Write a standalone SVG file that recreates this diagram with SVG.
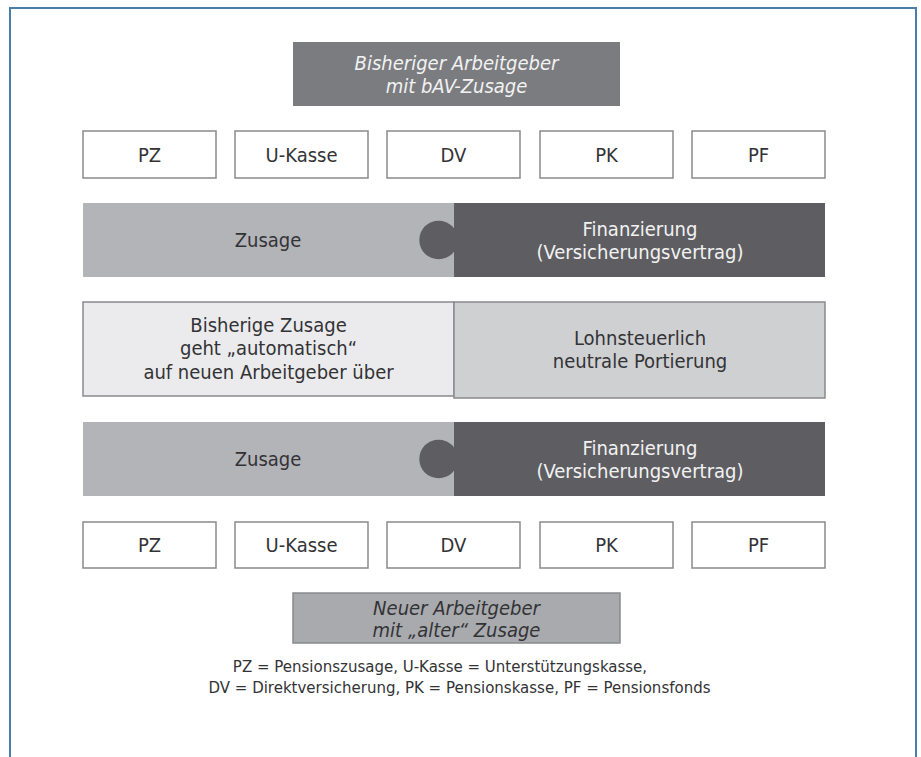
<svg xmlns="http://www.w3.org/2000/svg" width="921" height="757" viewBox="0 0 921 757">
<style>
text{font-family:"DejaVu Sans","Verdana",sans-serif;text-anchor:middle}
.t,.w{font-size:20px;font-stretch:condensed}
.t{fill:#333336}
.w{fill:#f2f2f2}
.box{fill:#ffffff;stroke:#8a8a8e;stroke-width:1.5}
.it{font-style:italic}
.leg{font-size:15px;fill:#333336}
</style>
<rect x="10" y="8" width="906" height="760" fill="#ffffff" stroke="#4a7ea8" stroke-width="2"/>
<g id="alter-ag">
<rect x="293" y="42" width="327" height="64" fill="#7b7c80"/>
<text class="w it" x="456.5" y="70">Bisheriger Arbeitgeber</text>
<text class="w it" x="456.5" y="93">mit bAV-Zusage</text>
</g>
<g id="row1">
<g id="pz1"><rect class="box" x="83" y="131" width="133" height="47"/><text class="t" x="149.5" y="162">PZ</text></g>
<g id="uk1"><rect class="box" x="235" y="131" width="133" height="47"/><text class="t" x="301.5" y="162">U-Kasse</text></g>
<g id="dv1"><rect class="box" x="387" y="131" width="133" height="47"/><text class="t" x="453.5" y="162">DV</text></g>
<g id="pk1"><rect class="box" x="540" y="131" width="133" height="47"/><text class="t" x="606.5" y="162">PK</text></g>
<g id="pf1"><rect class="box" x="692" y="131" width="133" height="47"/><text class="t" x="758.5" y="162">PF</text></g>
</g>
<g id="bar1">
<rect x="83" y="203" width="371" height="74" fill="#b3b4b8"/>
<rect x="454" y="203" width="371" height="74" fill="#5e5e62"/>
<circle cx="438.6" cy="240" r="19.3" fill="#5e5e62"/>
<text class="t" x="268" y="247">Zusage</text>
<text class="w" x="640" y="236">Finanzierung</text>
<text class="w" x="640" y="259">(Versicherungsvertrag)</text>
</g>
<g id="mitte">
<rect x="83" y="302" width="371" height="94" fill="#ebebed" stroke="#8a8a8e" stroke-width="1.5"/>
<rect x="454" y="302" width="371" height="96" fill="#cfd0d2" stroke="#8a8a8e" stroke-width="1.5"/>
<text class="t" x="268.5" y="332">Bisherige Zusage</text>
<text class="t" x="268.5" y="355">geht „automatisch“</text>
<text class="t" x="268.5" y="379">auf neuen Arbeitgeber über</text>
<text class="t" x="640" y="345">Lohnsteuerlich</text>
<text class="t" x="640" y="368">neutrale Portierung</text>
</g>
<g id="bar2">
<rect x="83" y="422" width="371" height="74" fill="#b3b4b8"/>
<rect x="454" y="422" width="371" height="74" fill="#5e5e62"/>
<circle cx="438.6" cy="459" r="19.3" fill="#5e5e62"/>
<text class="t" x="268" y="466">Zusage</text>
<text class="w" x="640" y="455">Finanzierung</text>
<text class="w" x="640" y="478">(Versicherungsvertrag)</text>
</g>
<g id="row2">
<g id="pz2"><rect class="box" x="83" y="522" width="133" height="46"/><text class="t" x="149.5" y="552">PZ</text></g>
<g id="uk2"><rect class="box" x="235" y="522" width="133" height="46"/><text class="t" x="301.5" y="552">U-Kasse</text></g>
<g id="dv2"><rect class="box" x="387" y="522" width="133" height="46"/><text class="t" x="453.5" y="552">DV</text></g>
<g id="pk2"><rect class="box" x="540" y="522" width="133" height="46"/><text class="t" x="606.5" y="552">PK</text></g>
<g id="pf2"><rect class="box" x="692" y="522" width="133" height="46"/><text class="t" x="758.5" y="552">PF</text></g>
</g>
<g id="neuer-ag">
<rect x="293" y="593" width="327" height="50" fill="#a9aaae" stroke="#8a8a8e" stroke-width="1.5"/>
<text class="t it" x="456.5" y="615">Neuer Arbeitgeber</text>
<text class="t it" x="456.5" y="637">mit „alter“ Zusage</text>
</g>
<g id="legende">
<text class="leg" x="440" y="672">PZ = Pensionszusage, U-Kasse = Unterstützungskasse,</text>
<text class="leg" x="459.5" y="693">DV = Direktversicherung, PK = Pensionskasse, PF = Pensionsfonds</text>
</g>
<g id="connectors"/>
</svg>
